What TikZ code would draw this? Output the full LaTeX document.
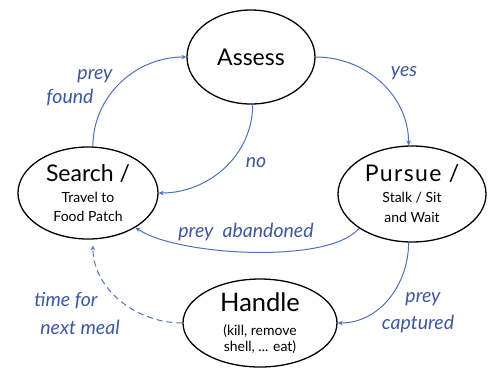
\documentclass[tikz,border=0pt]{standalone}
\usepackage{fontspec}
\setmainfont{Lato}
\usetikzlibrary{shapes.geometric,arrows.meta}
\definecolor{flowblue}{RGB}{78,114,186}
\definecolor{lblblue}{RGB}{62,88,160}
\newcommand{\headtxt}[1]{{\fontsize{23}{19}\selectfont #1}}
\tikzset{
  state/.style={ellipse, draw, line width=1.3pt, align=center, inner sep=0pt,
    font=\fontsize{14}{19}\selectfont},
  flow/.style={-{Stealth[length=5pt,width=4.5pt]}, line width=1pt, draw=flowblue},
  lbl/.style={text=lblblue, font=\itshape\fontsize{19.5}{21}\selectfont, inner sep=0pt},
}
\begin{document}
\begin{tikzpicture}[x=1pt,y=-1pt]
  \useasboundingbox (0,0) rectangle (490,368);
  % states
  \node[state, minimum width=128pt, minimum height=94pt] (assess) at (251,57) {\headtxt{Assess}};
  \node[state, minimum width=140pt, minimum height=92pt] (search) at (88,193)
    {\headtxt{Search /}\\[2pt]Travel to\\Food Patch};
  \node[state, minimum width=148pt, minimum height=96pt] (pursue) at (412,194)
    {\headtxt{\addfontfeatures{LetterSpace=6}Pursue /}\\[2pt]Stalk / Sit\\[1pt]and Wait};
  \node[state, minimum width=154pt, minimum height=88pt, font=\fontsize{14}{16}\selectfont] (handle) at (260,323)
    {{\fontsize{25.5}{16}\selectfont Handle}\\[8pt](kill, remove\\shell, ... eat)};
  % transitions
  \draw[flow] (search.84) to[out=90,in=180] (assess.west);
  \draw[flow] (assess.east) to[out=0,in=90] (pursue.94);
  \draw[flow] (assess.-88) to[out=-90,in=0] (search.east);
  \draw[flow] (pursue.-147) to[out=-130,in=-35,looseness=0.55] (search.-36);
  \draw[flow] (pursue.-94) to[out=-90,in=0] (handle.east);
  \draw[flow, dash pattern=on 6pt off 4pt, shorten >=6pt] (handle.west) to[out=180,in=-90] (search.-84);
  % labels
  \node[lbl] (l1) at (95,76) {prey};
  \node[lbl] (l2) at (70,98) {found};
  \node[lbl] (l3) at (404,73) {yes};
  \node[lbl] (l4) at (256,163) {no};
  \node[lbl] (l5) at (246,232) {prey\ \ abandoned};
  \node[lbl] (l6) at (66,301) {time for};
  \node[lbl] (l7) at (80,327) {next meal};
  \node[lbl] (l8) at (423,299) {prey};
  \node[lbl] (l9) at (418,324) {captured};
\end{tikzpicture}
\end{document}
